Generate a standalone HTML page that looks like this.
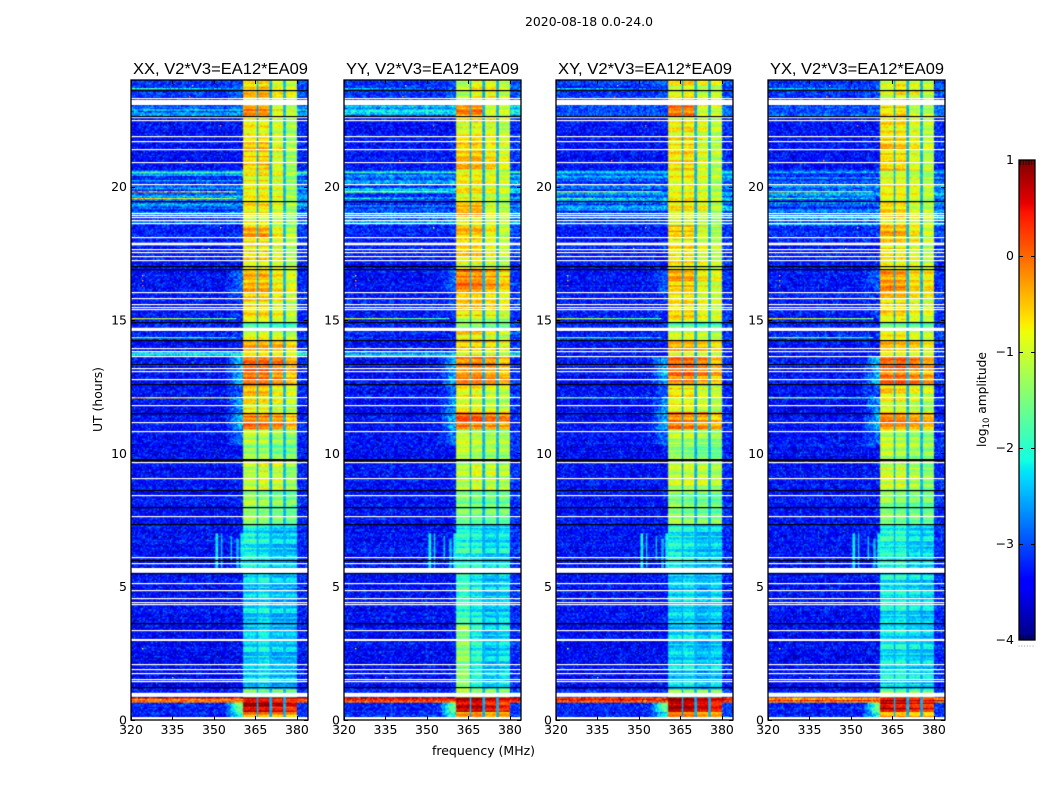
<!DOCTYPE html>
<html lang="en">
<head>
<meta charset="utf-8">
<title>2020-08-18 0.0-24.0</title>
<style>
html,body{margin:0;padding:0;background:#fff;width:1050px;height:800px;overflow:hidden}
#figure{position:relative;width:1050px;height:800px}
canvas{position:absolute;display:block}
svg{position:absolute;left:0;top:0}
text{font-family:"DejaVu Sans","Liberation Sans",sans-serif;fill:#000}
text.panel-title{font-family:"Liberation Sans",sans-serif}
</style>
</head>
<body>
<div id="figure">
<svg id="overlay" width="1050" height="800" viewBox="0 0 1050 800">
  <text x="525" y="26" font-size="12.5" textLength="128" lengthAdjust="spacingAndGlyphs">2020-08-18 0.0-24.0</text>
  <text class="panel-title" x="133" y="74" font-size="16" textLength="175" lengthAdjust="spacingAndGlyphs">XX, V2*V3=EA12*EA09</text>
  <text class="panel-title" x="346" y="74" font-size="16" textLength="173" lengthAdjust="spacingAndGlyphs">YY, V2*V3=EA12*EA09</text>
  <text class="panel-title" x="558" y="74" font-size="16" textLength="174" lengthAdjust="spacingAndGlyphs">XY, V2*V3=EA12*EA09</text>
  <text class="panel-title" x="770" y="74" font-size="16" textLength="174" lengthAdjust="spacingAndGlyphs">YX, V2*V3=EA12*EA09</text>
  <text x="432" y="755" font-size="12.5" textLength="103" lengthAdjust="spacingAndGlyphs">frequency (MHz)</text>
  <text transform="translate(102,432) rotate(-90)" font-size="12.5" textLength="65" lengthAdjust="spacingAndGlyphs">UT (hours)</text>
  <text transform="translate(986,447) rotate(-90)" font-size="12.2">log<tspan font-size="8.5" dy="3">10</tspan><tspan dy="-3"> amplitude</tspan></text>
</svg>
</div>
<script>
/* ---------- axis ticks ---------- */
var freqTicks = [320, 335, 350, 365, 380];
var hourTicks = [0, 5, 10, 15, 20];
var colorbarTicks = [1, 0, -1, -2, -3, -4];
var panelNames = ['xx', 'yy', 'xy', 'yx'];

/* ---------- time segments (top hour of each segment) ---------- */
var segmentTopHour = [24,23.06,22.58,21.86,20.89,20.62,20.51,19.95,19.43,18.86,18.56,18.11,17.14,16.88,16.05,15.08,14.93,14.59,14.25,13.80,13.65,13.35,12.56,12.11,11.55,10.88,10.31,9.79,8.63,7.35,5.51,3.6,1.13,.86,.64,.30,.11];

/* ---------- log10 amplitude away from the band ---------- */
var offLevelParallel = [-3.15,-2.55,-3.35,-3.35,-3.35,-2.2,-2.9,-2.85,-2.9,-2.9,-3.25,-3.3,-3.35,-3.35,-3.3,-3.35,-3.25,-3.25,-3.35,-2.45,-3.35,-3.35,-3.35,-3.4,-3.35,-3.35,-3.4,-3.35,-3.35,-3.35,-3.35,-3.4,-3.25,.25,-3.25,-3.25,-3.25];
var offLevelCross = [-3.15,-3.0,-3.35,-3.35,-3.35,-2.4,-2.9,-2.85,-2.9,-2.9,-3.25,-3.3,-3.35,-3.35,-3.3,-3.35,-3.25,-3.25,-3.35,-3.3,-3.35,-3.35,-3.35,-3.4,-3.35,-3.35,-3.4,-3.35,-3.35,-3.35,-3.35,-3.4,-3.25,.05,-3.25,-3.25,-3.25];

/* ---------- log10 amplitude at the low-frequency shoulder of the band (-9: none) ---------- */
var shoulderParallel = [-3,-9,-9,-9,-9,-9,-9,-9,-9,-9,-9,-9,-9,-2.9,-3.2,-9,-9,-9,-9,-9,-2.55,-2.55,-3,-2.7,-2.55,-2.9,-9,-9,-9,-9,-9,-9,-9,-9,-1.6,-2.1,-3];
var shoulderCross = [-3,-9,-9,-9,-9,-9,-9,-9,-9,-9,-9,-9,-9,-3,-3.2,-9,-9,-9,-9,-9,-2.55,-2.55,-3,-2.7,-2.55,-2.9,-9,-9,-9,-9,-9,-9,-9,-9,-1.6,-2.1,-3];

/* ---------- band levels, one row per time segment: four spectral windows ---------- */
var bandXX = [[-.6,-.5,-.9,-1],[-.05,-.1,-.8,-1],[-.8,-.8,-1,-1.25],[-.6,-.5,-.9,-1.25],[-.55,-.45,-.9,-1.25],[-.9,-.8,-1,-1.3],[-.8,-.7,-.9,-1.3],[-.8,-.75,-.95,-1.3],[-.75,-.7,-.95,-1.3],[-.8,-.8,-1,-1.3],[-.35,-.35,-.85,-1.2],[-.7,-.65,-.9,-1.2],[-.9,-.9,-1,-1.2],[-.45,-.45,-.75,-.95],[-.65,-.6,-.85,-1.1],[-.8,-.8,-1,-1.2],[-1.7,-1.7,-1.8,-1.8],[-.95,-.85,-1,-1.2],[-.4,-.4,-.45,-.7],[-.9,-.85,-.95,-1.1],[-.1,-.05,-.15,-.5],[0,0,-.2,-.45],[-.6,-.6,-.9,-1.05],[-.8,-.8,-1,-1.2],[-.1,-.15,-.25,-.5],[-1.1,-1.1,-1.3,-1.4],[-1.4,-1.4,-1.6,-1.6],[-1.1,-.9,-1,-1.3],[-1.3,-1.4,-1.5,-1.6],[-2.1,-2.2,-2.4,-2.4],[-2.35,-2.2,-2.45,-2.45],[-2.35,-2.2,-2.45,-2.45],[-1.3,-1.5,-1.4,-1.5],[.7,.7,.6,.5],[.75,.75,.55,.4],[-.2,-.2,-.3,-.4],[-.5,-.5,-.6,-.7]];
var bandYY = [[-1.2,-.8,-.8,-1.1],[-.25,-.25,-1.1,-1.1],[-.9,-.8,-.9,-1.1],[-.6,-.6,-.8,-1],[-.5,-.55,-.7,-1],[-1,-1,-1.1,-1.2],[-.8,-.8,-.95,-1.1],[-.8,-.8,-.95,-1.1],[-.35,-.35,-.9,-1.1],[-1,-1,-1.1,-1.2],[-.45,-.45,-.75,-1.1],[-.65,-.65,-.9,-1.1],[-.9,-.9,-1,-1.1],[-.1,-.15,-.3,-.55],[-.6,-.6,-.75,-.9],[-1.2,-1.1,-1.2,-1.3],[-1.5,-1.5,-1.7,-1.7],[-.7,-.7,-.9,-1.1],[-.55,-.55,-.6,-.8],[-.9,-.85,-.95,-1.1],[-.1,-.05,-.15,-.4],[-.15,-.1,-.2,-.4],[-.8,-.8,-1,-1.1],[-.9,-1,-1.1,-1.2],[0,-.1,-.2,-.3],[-1,-1.1,-1.2,-1.2],[-1.1,-1.3,-1.3,-1.3],[-1.2,-1,-1.1,-1.2],[-1.5,-1.6,-1.6,-1.6],[-2,-2.1,-2.3,-2.2],[-1.9,-2.15,-2.4,-2.3],[-1.4,-2.05,-2.4,-2.25],[-1.3,-1.5,-1.4,-1.5],[.75,.75,.55,.45],[.7,.7,.5,.35],[-.3,-.3,-.5,-.4],[-.5,-.5,-.6,-.7]];
var bandXY = [[-.85,-.7,-1,-1],[-.1,-.1,-1,-1],[-.85,-.75,-.95,-1.15],[-.7,-.6,-.95,-1.15],[-.65,-.55,-.95,-1.15],[-1,-.9,-1.05,-1.25],[-.85,-.75,-.95,-1.2],[-.85,-.8,-.95,-1.2],[-.8,-.75,-.95,-1.2],[-.9,-.85,-1,-1.25],[-.45,-.45,-.9,-1.15],[-.75,-.7,-.95,-1.15],[-.9,-.9,-1,-1.15],[-.45,-.45,-.8,-.95],[-.7,-.65,-.9,-1.05],[-.85,-.85,-1,-1.15],[-1.7,-1.7,-1.8,-1.8],[-.95,-.9,-1.05,-1.15],[-.45,-.45,-.55,-.75],[-.95,-.9,-1,-1.1],[-.1,-.05,-.2,-.5],[-.1,-.05,-.25,-.45],[-.7,-.7,-.95,-1.05],[-.85,-.85,-1.05,-1.2],[-.15,-.2,-.3,-.5],[-1.2,-1.2,-1.35,-1.4],[-1.3,-1.4,-1.55,-1.55],[-1.15,-1.05,-1.1,-1.25],[-1.4,-1.5,-1.55,-1.6],[-2.1,-2.2,-2.4,-2.35],[-2.35,-2.25,-2.5,-2.35],[-2.35,-2.25,-2.5,-2.35],[-1.4,-1.6,-1.5,-1.6],[.75,.7,.5,.4],[.7,.65,.5,.35],[-.25,-.25,-.4,-.45],[-.5,-.5,-.6,-.7]];
var bandYX = [[-1,-.7,-.9,-1.1],[-.7,-.6,-1.1,-1.2],[-.7,-.7,-.95,-1.15],[-.6,-.6,-.9,-1.1],[-.55,-.55,-.85,-1.1],[-1,-.95,-1.1,-1.2],[-.85,-.8,-.95,-1.15],[-.85,-.8,-.95,-1.15],[-.6,-.6,-.95,-1.15],[-.95,-.95,-1.05,-1.2],[-.5,-.5,-.85,-1.15],[-.7,-.7,-.9,-1.15],[-.9,-.9,-1,-1.15],[-.3,-.35,-.7,-.75],[-.65,-.6,-.85,-.95],[-1,-.95,-1.1,-1.2],[-1.6,-1.6,-1.75,-1.75],[-.85,-.8,-1,-1.15],[-.5,-.5,-.6,-.8],[-.9,-.85,-1,-1.1],[-.1,-.05,-.2,-.45],[-.1,-.05,-.2,-.4],[-.7,-.7,-.95,-1.05],[-.85,-.9,-1.05,-1.2],[-.1,-.15,-.25,-.4],[-1.1,-1.2,-1.3,-1.4],[-1.2,-1.3,-1.4,-1.45],[-1,-1,-1.2,-1.4],[-1.4,-1.5,-1.55,-1.6],[-2.05,-2,-2.3,-2.3],[-2.2,-2.15,-2.3,-2.35],[-2.2,-2.15,-2.3,-2.35],[-1.4,-1.6,-1.5,-1.6],[.7,.7,.5,.4],[.7,.65,.5,.35],[-.3,-.3,-.45,-.45],[-.5,-.5,-.6,-.7]];

/* ---------- spectral window edges in MHz ---------- */
var windowLowMHz = [360.5, 365.8, 370.8, 375.9];
var windowHighMHz = [365.3, 370.2, 375.0, 379.9];
var gapLevel = -2.5;

/* ---------- flagged (blank) hours, missing-scan hours ---------- */
var flaggedHours = [23.30,22.58,22.49,21.87,21.68,21.40,20.90,20.07,18.98,18.91,18.85,18.72,18.60,18.10,17.65,17.52,17.37,17.22,16.04,15.80,15.57,15.46,15.38,13.92,13.80,13.64,13.31,13.17,13.07,12.78,12.09,11.79,11.16,10.83,9.66,9.06,8.43,7.64,6.10,5.87,5.13,4.86,4.56,4.40,4.31,3.35,2.09,1.90,1.74,1.53,1.44];
var flaggedStartHours = [23.06,17.80,14.59,5.52,2.96,.87,0];
var flaggedEndHours = [23.25,17.90,14.71,5.70,3.04,1.02,.11];
var darkScanHours = [23.60,22.61,19.43,17.0,16.88,14.91,14.22,13.34,12.57,11.50,9.77,9.73,8.61,7.97,7.34,5.97,5.49,3.60,1.20];

/* ---------- interference: horizontal stripes, vertical tones, isolated spikes ---------- */
var stripeHours = [19.80,19.57,15.07,14.34,12.09,23.67];
var stripeXX = [.1,-.5,-.9,-1.4,-.4,-1.8];
var stripeYY = [-.9,-2,-1,-2.8,-9,-2.3];
var stripeXY = [-.8,-1.7,-1,-1.5,-1.5,-2.2];
var stripeYX = [-.8,-1.7,-.7,-1.2,-1.2,-2.2];
var toneMHz = [351,352.8,356.3,358.5,360];
var toneTopHour = [7.0,7.0,6.9,6.8,7.0];
var toneBottomHour = [5.7,5.7,6.0,5.7,5.7];
var toneLevel = [-2.2,-2.4,-2.4,-2.5,-2.2];
var spikeMHz = [324,324,324,324,342,340,351,352,335,341,348,352];
var spikeHour = [16.7,16.5,16.3,2.7,23.8,21.0,19.9,18.5,1.6,23.4,17.7,22.3];
var spikeLevel = [-.6,-.4,-.1,-.9,-1,-.2,-.1,-.7,-1.2,-.1,-1,-.2];

/* ---------- hand-typed speckle texture for the receiver noise ---------- */
var speckleTile = [.18,-.22,.31,-.08,.02,-.33,.26,.11,-.17,.35,-.27,.05,-.12,.22,-.36,.14,.29,-.05,-.24,.09,.33,-.15,-.3,.2,.07,-.2,.28,-.1,.16,-.34,.03];
var speckleTileB = [-.28,.12,.36,-.06,-.33,.21,.04,-.15,.3,-.24,.16,-.36,.09,.26,-.11,-.02,.33,-.19,.24,-.3,.07,.14,-.26,.35,-.09,-.17,.19,.02,-.32,.28,-.04,.1,-.21,.31,-.13,.23,-.35];
var rowRipple = [.12,-.18,.25,-.06,.2,-.25,.05,.3,-.12,-.28,.16,.02,-.2,.27,-.1,.22,-.3,.08,.14,-.16,.28,-.04,-.22];

/* ---------- layout ---------- */
var panelLeft = [131, 344, 556, 768];
var panelWidth = 177, panelTop = 80, panelHeight = 640;
var cbLeft = 1019, cbWidth = 16, cbTop = 160, cbHeight = 480;
var gridCols = 128, gridRows = 480;

function xOf(freq, p) { return panelLeft[p] + (freq - 320) / (384 - 320) * panelWidth; }
function yOf(hour) { return panelTop + (24 - hour) / 24 * panelHeight; }
function cbY(v) { return cbTop + (1 - v) / 5 * cbHeight; }

function clamp01(t) { return t < 0 ? 0 : t > 1 ? 1 : t; }
function jet(v) {
  var r = v < .35 ? 0 : v < .66 ? (v - .35) / .31 : v < .89 ? 1 : 1 - (v - .89) / .11 * .5;
  var g = v < .125 ? 0 : v < .375 ? (v - .125) / .25 : v < .64 ? 1 : v < .91 ? 1 - (v - .64) / .27 : 0;
  var b = v < .11 ? .5 + v / .11 * .5 : v < .34 ? 1 : v < .65 ? 1 - (v - .34) / .31 : 0;
  return [Math.round(r * 255), Math.round(g * 255), Math.round(b * 255)];
}
function levelColor(level) { return jet(clamp01((level + 4) / 5)); }

var panelBands = [bandXX, bandYY, bandXY, bandYX];
var panelOff = [offLevelParallel, offLevelParallel, offLevelCross, offLevelCross];
var panelShoulder = [shoulderParallel, shoulderParallel, shoulderCross, shoulderCross];
var panelStripes = [stripeXX, stripeYY, stripeXY, stripeYX];

function segmentAt(hour) {
  var s = 0;
  for (var i = 0; i < segmentTopHour.length; i++) { if (hour <= segmentTopHour[i]) s = i; }
  return s;
}

function cellLevel(p, hour, freq, row, col) {
  var s = segmentAt(hour);
  var off = panelOff[p][s];
  var ripple = rowRipple[(row * 3 + s * 5 + p * 2) % rowRipple.length];
  var speck = speckleTile[(col * col * 3 + row * row * 5 + col * row + p) % speckleTile.length] +
              speckleTileB[(col * col + row * row * 2 + col * row * 3 + p * 9) % speckleTileB.length];
  for (var w = 0; w < windowLowMHz.length; w++) {
    if (freq >= windowLowMHz[w] && freq <= windowHighMHz[w]) {
      return panelBands[p][s][w] + ripple * 1.1 + speck * .4;
    }
  }
  if (freq > windowLowMHz[0] && freq < windowHighMHz[3]) return gapLevel + speck * .3;
  var level;
  if (freq >= windowHighMHz[3]) {
    level = off + .15;
  } else {
    var t = clamp01((freq - 354) / 5);
    var sh = panelShoulder[p][s];
    level = off + Math.max(0, sh - off) * t;
  }
  level += ripple * (off > -3 ? 1.5 : .3) + speck * .9;
  for (var k = 0; k < toneMHz.length; k++) {
    if (Math.abs(freq - toneMHz[k]) < .26 && hour <= toneTopHour[k] && hour >= toneBottomHour[k]) {
      level = Math.max(level, toneLevel[k] + speck * .4);
    }
  }
  return level;
}

function drawPanel(p) {
  var off = document.createElement('canvas');
  off.width = gridCols;
  off.height = gridRows;
  var octx = off.getContext('2d');
  var img = octx.createImageData(gridCols, gridRows);
  for (var r = 0; r < gridRows; r++) {
    var hour = 24 - (r + .5) / gridRows * 24;
    for (var c = 0; c < gridCols; c++) {
      var freq = 320 + (c + .5) / gridCols * 64;
      var rgb = levelColor(cellLevel(p, hour, freq, r, c));
      var i = (r * gridCols + c) * 4;
      img.data[i] = rgb[0];
      img.data[i + 1] = rgb[1];
      img.data[i + 2] = rgb[2];
      img.data[i + 3] = 255;
    }
  }
  octx.putImageData(img, 0, 0);

  var cv = document.createElement('canvas');
  cv.width = panelWidth;
  cv.height = panelHeight;
  cv.style.left = panelLeft[p] + 'px';
  cv.style.top = panelTop + 'px';
  
  
  var ctx = cv.getContext('2d');
  ctx.imageSmoothingEnabled = true;
  ctx.drawImage(off, 0, 0, panelWidth, panelHeight);

  /* flagged intervals */
  var levels = panelStripes[p];
  ctx.fillStyle = '#fff';
  flaggedHours.forEach(function (h) {
    ctx.fillRect(0, Math.round(yOf(h) - panelTop - .6), panelWidth, 1.2);
  });
  flaggedStartHours.forEach(function (h, idx) {
    var top = yOf(flaggedEndHours[idx]) - panelTop;
    ctx.fillRect(0, top, panelWidth, yOf(h) - yOf(flaggedEndHours[idx]));
  });

  /* interference stripes painted above the flags */
  var colW = panelWidth / gridCols;
  for (var s = 0; s < stripeHours.length; s++) {
    if (levels[s] < -5) continue;
    for (var q = 0; q < gridCols; q++) {
      var f = 320 + (q + .5) / gridCols * 64;
      if (f > 358) break;
      var fade = (f - 320) / 38;
      var st = levelColor(levels[s] - fade * .9 + speckleTile[(q * q + s) % speckleTile.length] * 1.4);
      ctx.fillStyle = 'rgb(' + st[0] + ',' + st[1] + ',' + st[2] + ')';
      ctx.fillRect(xOf(f, p) - panelLeft[p] - colW / 2, Math.round(yOf(stripeHours[s]) - panelTop - .6), colW + .3, 1.3);
    }
  }

  /* isolated spikes */
  spikeMHz.forEach(function (f, idx) {
    var sp = levelColor(spikeLevel[idx]);
    ctx.fillStyle = 'rgb(' + sp[0] + ',' + sp[1] + ',' + sp[2] + ')';
    ctx.fillRect(Math.round(xOf(f, p) - panelLeft[p]), Math.round(yOf(spikeHour[idx]) - panelTop), 1.4, 1.4);
  });

  /* missing scans */
  ctx.fillStyle = '#000';
  darkScanHours.forEach(function (h) {
    ctx.fillRect(0, Math.round(yOf(h) - panelTop - .6), panelWidth, 1.2);
  });

  document.getElementById('figure').insertBefore(cv, document.getElementById('overlay'));
}

var svg = document.getElementById('overlay');
var NS = 'http://www.w3.org/2000/svg';

function addLine(x1, y1, x2, y2, width, color) {
  var l = document.createElementNS(NS, 'line');
  l.setAttribute('x1', x1);
  l.setAttribute('y1', y1);
  l.setAttribute('x2', x2);
  l.setAttribute('y2', y2);
  l.setAttribute('stroke', color);
  l.setAttribute('stroke-width', width);
  svg.appendChild(l);
  return l;
}
function addText(str, x, y, anchor) {
  var t = document.createElementNS(NS, 'text');
  t.setAttribute('x', x);
  t.setAttribute('y', y);
  t.setAttribute('font-size', '12.5');
  t.setAttribute('text-anchor', anchor);
  t.textContent = str;
  svg.appendChild(t);
  return t;
}
function addFrame(x, y, w, h) {
  var f = document.createElementNS(NS, 'rect');
  f.setAttribute('x', x);
  f.setAttribute('y', y);
  f.setAttribute('width', w);
  f.setAttribute('height', h);
  f.setAttribute('fill', 'none');
  f.setAttribute('stroke', '#000');
  f.setAttribute('stroke-width', '1.3');
  svg.appendChild(f);
  return f;
}

function drawAxes(p) {
  var frame = addFrame(panelLeft[p], panelTop, panelWidth, panelHeight);
  
  
  freqTicks.forEach(function (f) {
    var x = Math.round(xOf(f, p)) + .5;
    var tb = addLine(x, panelTop + panelHeight, x, panelTop + panelHeight - 4, 1, '#000');
    
    
    var tt = addLine(x, panelTop, x, panelTop + 4, 1, '#000');
    
    
    var lab = addText(String(f), xOf(f, p), 734, 'middle');
    
    
  });
  hourTicks.forEach(function (h) {
    var y = Math.round(yOf(h)) + .5;
    var tl = addLine(panelLeft[p], y, panelLeft[p] + 4, y, 1, '#000');
    
    
    var tr = addLine(panelLeft[p] + panelWidth, y, panelLeft[p] + panelWidth - 4, y, 1, '#000');
    
    
    var lab = addText(String(h), panelLeft[p] - 4, yOf(h) + 4.5, 'end');
    
    
  });
}

function drawColorbar() {
  var cv = document.createElement('canvas');
  cv.width = cbWidth;
  cv.height = cbHeight;
  cv.style.left = cbLeft + 'px';
  cv.style.top = cbTop + 'px';
  
  
  var ctx = cv.getContext('2d');
  for (var y = 0; y < cbHeight; y++) {
    var rgb = jet(1 - (y + .5) / cbHeight);
    ctx.fillStyle = 'rgb(' + rgb[0] + ',' + rgb[1] + ',' + rgb[2] + ')';
    ctx.fillRect(0, y, cbWidth, 1);
  }
  document.getElementById('figure').insertBefore(cv, svg);

  var frame = addFrame(cbLeft, cbTop, cbWidth, cbHeight);
  
  

  colorbarTicks.forEach(function (v) {
    var y = Math.round(cbY(v)) + .5;
    if (v < 1 && v > -4) {
      var a = addLine(cbLeft, y, cbLeft + 4, y, 1, '#000');
      
      
      var b = addLine(cbLeft + cbWidth, y, cbLeft + cbWidth - 4, y, 1, '#000');
      
      
    }
    var lab = addText(String(v).replace('-', '\u2212'), cbLeft - 5, cbY(v) + 4, 'end');
    
    
  });
  for (var i = 0; i < 6; i++) {
    var x = cbLeft + 1.5 + i * 2.8;
    var up = addLine(x, cbTop, x, cbTop + 5, .8, '#000');
    
    
    var dn = addLine(x, cbTop + cbHeight, x, cbTop + cbHeight - 5, .8, '#000');
    
    
    var dot = addLine(x - 2, 646, x - 1, 646, 1, '#999');
    
    
  }
}

for (var p = 0; p < panelNames.length; p++) {
  drawPanel(p);
  drawAxes(p);
}
drawColorbar();
</script>
</body>
</html>
